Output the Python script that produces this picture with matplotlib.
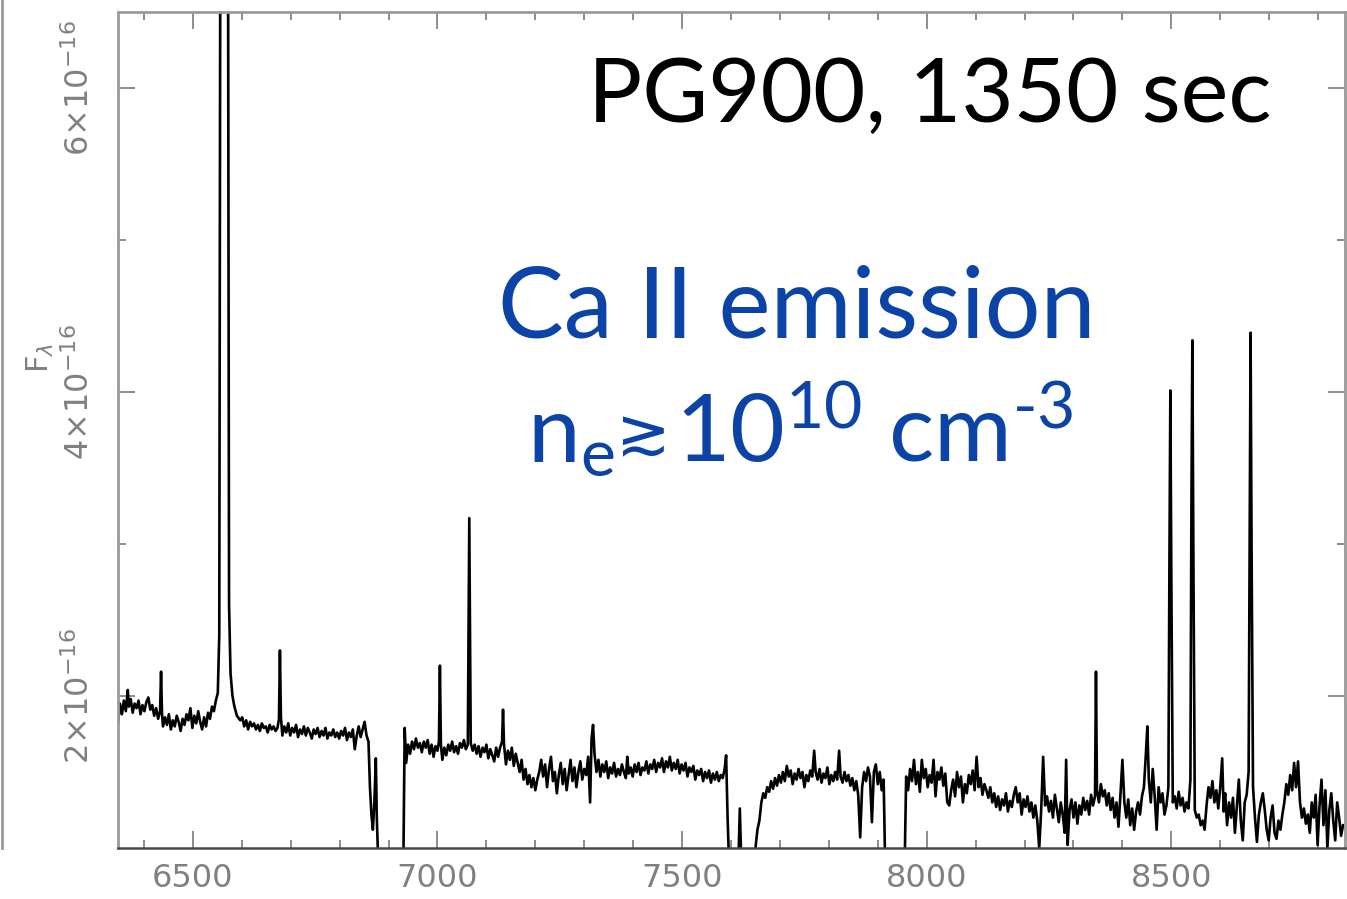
"""Optical spectrum (PG900, 1350 s) with Halpha, He I and the Ca II triplet in emission."""

import matplotlib
matplotlib.use("Agg")
import matplotlib.pyplot as plt
from matplotlib.lines import Line2D
from matplotlib.ticker import FixedLocator

# wavelength in Angstrom, flux in units of 1e-16
WAVE_A = [6347, 6351, 6355, 6359, 6363, 6367, 6369, 6373, 6377, 6381, 6385, 6389,
          6393, 6397, 6401, 6405, 6409, 6413, 6417, 6421, 6425, 6429, 6433, 6435,
          6437, 6439, 6443, 6447, 6451, 6455, 6459, 6463, 6467, 6471, 6475, 6479,
          6483, 6487, 6491, 6495, 6499, 6503, 6507, 6511, 6515, 6519, 6523, 6527,
          6531, 6535, 6539, 6543, 6547, 6551, 6554, 6556, 6558, 6570, 6572, 6574,
          6577, 6581, 6585, 6590, 6597, 6601, 6605, 6609, 6613, 6617, 6621, 6625,
          6629, 6633, 6637, 6641, 6645, 6649, 6653, 6657, 6661, 6665, 6669, 6673,
          6676, 6678, 6680, 6683, 6687, 6691, 6695, 6699, 6703, 6707, 6711, 6715,
          6719, 6723, 6727, 6731, 6735, 6739, 6743, 6747, 6751, 6755, 6759, 6763,
          6767, 6771, 6775, 6779, 6783, 6787, 6791, 6795, 6799, 6803, 6807, 6811,
          6815, 6819, 6823, 6827, 6831, 6835, 6839, 6843, 6847, 6851, 6855, 6859,
          6862, 6865, 6868, 6871, 6874, 6876, 6879, 6930]
FLUX_A = [1.82, 1.95, 1.88, 1.97, 1.90, 2.04, 1.93, 1.98, 1.89, 1.95, 1.92, 1.97,
          1.88, 1.94, 1.90, 1.96, 1.99, 1.91, 1.94, 1.87, 1.92, 1.85, 1.90, 2.16,
          1.88, 1.80, 1.86, 1.81, 1.88, 1.78, 1.84, 1.80, 1.87, 1.83, 1.77, 1.85,
          1.81, 1.88, 1.84, 1.92, 1.79, 1.87, 1.82, 1.90, 1.83, 1.78, 1.86, 1.80,
          1.89, 1.85, 1.93, 1.90, 1.97, 2.02, 2.40, 6.80, 7.50, 7.50, 6.80, 2.60,
          2.15, 2.00, 1.93, 1.87, 1.84, 1.86, 1.80, 1.84, 1.78, 1.83, 1.80, 1.82,
          1.78, 1.81, 1.77, 1.82, 1.79, 1.80, 1.76, 1.81, 1.78, 1.80, 1.77, 1.79,
          1.85, 2.30, 1.86, 1.74, 1.80, 1.76, 1.82, 1.74, 1.79, 1.76, 1.81, 1.73,
          1.78, 1.75, 1.80, 1.74, 1.79, 1.76, 1.72, 1.78, 1.75, 1.79, 1.73, 1.77,
          1.74, 1.79, 1.72, 1.76, 1.74, 1.78, 1.73, 1.76, 1.72, 1.77, 1.74, 1.79,
          1.71, 1.76, 1.73, 1.78, 1.65, 1.74, 1.80, 1.73, 1.78, 1.83, 1.74, 1.70,
          1.40, 1.22, 1.12, 1.30, 1.59, 1.20, 0.90, 0.80]

WAVE_B = [6933, 6936, 6940, 6944, 6948, 6952, 6956, 6960, 6964, 6968, 6972, 6976,
          6980, 6984, 6988, 6992, 6996, 7000, 7003, 7005, 7007, 7010, 7014, 7018,
          7022, 7026, 7030, 7034, 7038, 7042, 7046, 7050, 7054, 7058, 7062, 7065,
          7068, 7072, 7076, 7080, 7084, 7088, 7092, 7096, 7100, 7104, 7108, 7112,
          7116, 7120, 7124, 7128, 7132, 7134, 7136, 7140, 7144, 7148, 7152, 7156,
          7160, 7164, 7168, 7172, 7176, 7180, 7184, 7188, 7192, 7196, 7200, 7204,
          7208, 7212, 7216, 7220, 7224, 7228, 7232, 7236, 7240, 7244, 7248, 7252,
          7256, 7260, 7264, 7268, 7272, 7276, 7280, 7284, 7288, 7292, 7296, 7300,
          7304, 7308, 7312, 7315, 7318, 7321, 7325, 7329, 7333, 7337, 7341, 7345,
          7349, 7353, 7357, 7361, 7365, 7369, 7373, 7377, 7381, 7385, 7388, 7391,
          7395, 7399, 7403, 7407, 7411, 7415, 7419, 7423, 7427, 7431, 7435, 7439,
          7443, 7447, 7451, 7455, 7459, 7463, 7467, 7471, 7475, 7479, 7483, 7487,
          7491, 7495, 7499, 7503, 7507, 7511, 7515, 7519, 7523, 7527, 7531, 7535,
          7539, 7543, 7547, 7551, 7555, 7559, 7563, 7567, 7571, 7575, 7579, 7583,
          7587, 7590, 7593, 7596, 7615, 7618, 7621, 7648]
FLUX_B = [1.79, 1.56, 1.68, 1.62, 1.70, 1.65, 1.72, 1.66, 1.69, 1.63, 1.70, 1.66,
          1.71, 1.62, 1.68, 1.60, 1.67, 1.64, 1.70, 2.20, 1.68, 1.58, 1.66, 1.61,
          1.68, 1.64, 1.70, 1.63, 1.67, 1.62, 1.69, 1.66, 1.71, 1.65, 1.68, 3.17,
          1.69, 1.64, 1.68, 1.62, 1.67, 1.60, 1.66, 1.63, 1.68, 1.59, 1.65, 1.61,
          1.57, 1.66, 1.60, 1.66, 1.70, 1.91, 1.68, 1.55, 1.64, 1.58, 1.66, 1.54,
          1.62, 1.56, 1.50, 1.58, 1.45, 1.52, 1.42, 1.48, 1.40, 1.46, 1.38, 1.45,
          1.50, 1.58, 1.47, 1.55, 1.40, 1.52, 1.60, 1.44, 1.50, 1.36, 1.48, 1.56,
          1.42, 1.52, 1.38, 1.48, 1.58, 1.44, 1.53, 1.40, 1.50, 1.57, 1.45, 1.52,
          1.48, 1.60, 1.30, 1.72, 1.81, 1.62, 1.50, 1.58, 1.47, 1.55, 1.50, 1.57,
          1.46, 1.53, 1.49, 1.56, 1.47, 1.52, 1.48, 1.55, 1.50, 1.46, 1.60, 1.49,
          1.53, 1.47, 1.55, 1.50, 1.56, 1.48, 1.53, 1.51, 1.57, 1.49, 1.55, 1.52,
          1.58, 1.50, 1.56, 1.53, 1.59, 1.50, 1.57, 1.53, 1.60, 1.51, 1.56, 1.52,
          1.58, 1.49, 1.55, 1.51, 1.56, 1.47, 1.53, 1.50, 1.54, 1.45, 1.51, 1.48,
          1.52, 1.44, 1.50, 1.46, 1.51, 1.43, 1.49, 1.45, 1.50, 1.44, 1.48, 1.46,
          1.52, 1.61, 1.20, 0.90, 0.90, 1.26, 0.90, 0.90]

WAVE_C = [7650, 7654, 7658, 7662, 7666, 7670, 7674, 7678, 7682, 7686, 7690, 7694,
          7698, 7702, 7706, 7710, 7714, 7718, 7722, 7726, 7730, 7734, 7738, 7742,
          7746, 7750, 7754, 7758, 7762, 7766, 7770, 7773, 7777, 7781, 7785, 7789,
          7793, 7797, 7801, 7805, 7809, 7813, 7817, 7821, 7824, 7828, 7832, 7836,
          7840, 7844, 7848, 7852, 7856, 7860, 7864, 7868, 7872, 7876, 7880, 7884,
          7888, 7892, 7896, 7900, 7904, 7908, 7912, 7915, 7955]
FLUX_C = [1.00, 1.12, 1.18, 1.30, 1.36, 1.33, 1.40, 1.37, 1.44, 1.39, 1.46, 1.41,
          1.48, 1.43, 1.50, 1.44, 1.54, 1.47, 1.51, 1.42, 1.49, 1.45, 1.52, 1.46,
          1.50, 1.40, 1.48, 1.44, 1.51, 1.47, 1.64, 1.50, 1.45, 1.52, 1.43, 1.49,
          1.46, 1.53, 1.42, 1.48, 1.44, 1.50, 1.45, 1.64, 1.47, 1.43, 1.50, 1.44,
          1.48, 1.41, 1.46, 1.38, 1.44, 1.35, 1.07, 1.40, 1.50, 1.44, 1.53, 1.47,
          1.17, 1.50, 1.55, 1.42, 1.50, 1.38, 1.45, 0.90, 0.90]

WAVE_D = [7958, 7962, 7966, 7970, 7974, 7978, 7982, 7986, 7990, 7994, 7998, 8002,
          8006, 8010, 8014, 8018, 8022, 8026, 8030, 8034, 8038, 8042, 8046, 8050,
          8054, 8058, 8062, 8066, 8070, 8074, 8078, 8082, 8086, 8090, 8094, 8098,
          8102, 8106, 8110, 8114, 8118, 8122, 8126, 8130, 8134, 8138, 8142, 8146,
          8150, 8154, 8158, 8162, 8166, 8170, 8174, 8178, 8182, 8186, 8190, 8194,
          8198, 8202, 8206, 8210, 8214, 8218, 8222, 8226, 8230, 8234, 8238, 8242,
          8246, 8250, 8254, 8258, 8262, 8266, 8270, 8274, 8278, 8282, 8285, 8288,
          8292, 8296, 8300, 8304, 8308, 8312, 8316, 8320, 8324, 8328, 8332, 8336,
          8340, 8344, 8346, 8348, 8352, 8356, 8360, 8364, 8368, 8372, 8376, 8380,
          8384, 8388, 8392, 8396, 8400, 8404, 8408, 8412, 8416, 8420, 8424, 8428,
          8432, 8436, 8440, 8444, 8448, 8451, 8454, 8458, 8462, 8466, 8470, 8474,
          8478, 8482, 8486, 8490, 8494, 8496, 8498, 8500, 8503, 8507, 8511, 8515,
          8519, 8523, 8527, 8531, 8535, 8539, 8541, 8543, 8545, 8548, 8552, 8556,
          8560, 8564, 8568, 8572, 8576, 8580, 8584, 8588, 8592, 8596, 8600, 8604,
          8607, 8610, 8614, 8618, 8622, 8626, 8630, 8634, 8638, 8642, 8646, 8650,
          8654, 8658, 8660, 8662, 8664, 8667, 8671, 8675, 8679, 8683, 8687, 8691,
          8695, 8699, 8703, 8707, 8711, 8715, 8719, 8723, 8727, 8731, 8735, 8739,
          8743, 8747, 8751, 8755, 8759, 8763, 8767, 8771, 8775, 8779, 8783, 8787,
          8791, 8795, 8799, 8803, 8807, 8811, 8815, 8819, 8823, 8827, 8831, 8835,
          8839, 8843, 8847, 8851]
FLUX_D = [1.47, 1.38, 1.52, 1.44, 1.58, 1.42, 1.50, 1.37, 1.58, 1.46, 1.52, 1.40,
          1.48, 1.43, 1.58, 1.34, 1.50, 1.45, 1.53, 1.41, 1.49, 1.30, 1.28, 1.38,
          1.45, 1.34, 1.50, 1.40, 1.47, 1.30, 1.42, 1.36, 1.48, 1.42, 1.51, 1.38,
          1.60, 1.40, 1.46, 1.35, 1.42, 1.38, 1.33, 1.40, 1.30, 1.36, 1.27, 1.34,
          1.25, 1.32, 1.28, 1.36, 1.24, 1.31, 1.27, 1.35, 1.40, 1.30, 1.36, 1.22,
          1.32, 1.27, 1.34, 1.24, 1.30, 1.20, 1.28, 1.18, 1.00, 1.25, 1.60, 1.28,
          1.34, 1.24, 1.31, 1.20, 1.35, 1.26, 1.17, 1.30, 1.22, 1.10, 1.58, 1.02,
          1.25, 1.32, 1.20, 1.30, 1.16, 1.28, 1.22, 1.33, 1.25, 1.31, 1.22, 1.35,
          1.28, 1.34, 2.16, 1.38, 1.30, 1.42, 1.34, 1.38, 1.28, 1.36, 1.25, 1.33,
          1.20, 1.30, 1.14, 1.35, 1.58, 1.30, 1.20, 1.32, 1.15, 1.26, 1.12, 1.24,
          1.30, 1.22, 1.34, 1.40, 1.62, 1.80, 1.45, 1.30, 1.52, 1.34, 1.12, 1.40,
          1.30, 1.36, 1.22, 1.28, 1.40, 2.80, 4.01, 2.80, 1.30, 1.34, 1.26, 1.37,
          1.28, 1.33, 1.24, 1.30, 1.26, 1.45, 3.20, 4.34, 3.00, 1.25, 1.20, 1.22,
          1.15, 1.18, 1.12, 1.28, 1.40, 1.33, 1.44, 1.30, 1.38, 1.26, 1.40, 1.59,
          1.24, 1.36, 1.15, 1.30, 1.20, 1.33, 1.10, 1.28, 1.45, 1.18, 1.05, 1.30,
          1.35, 1.50, 3.00, 4.39, 3.00, 1.40, 1.20, 1.04, 1.22, 1.30, 1.36, 1.25,
          1.12, 1.05, 1.20, 1.28, 1.10, 1.06, 1.18, 1.12, 1.22, 1.30, 1.42, 1.35,
          1.48, 1.38, 1.56, 1.40, 1.57, 1.30, 1.20, 1.26, 1.16, 1.22, 1.10, 1.30,
          1.20, 1.35, 1.02, 1.28, 1.45, 1.15, 1.38, 1.00, 1.25, 1.36, 1.18, 1.05,
          1.30, 1.20, 1.08, 1.15]

X_MAJOR = [6500, 7000, 7500, 8000, 8500]
Y_MAJOR = [2, 4, 6]
Y_LABELS = [r"$2{\times}10^{-16}$", r"$4{\times}10^{-16}$", r"$6{\times}10^{-16}$"]

TITLE = "PG900, 1350 sec"
NOTE_1 = "Ca II emission"
NOTE_2_A = r"n$_\mathregular{e}$"
NOTE_2_B = "\u2273"
NOTE_2_C = r"10$^\mathregular{10}$ cm$^\mathregular{\text{-}3}$"

W, H = 1347, 899
GREY = "#8c8c8c"
BLUE = "#0b43a6"

plt.rcParams["mathtext.fontset"] = "custom"
plt.rcParams["mathtext.rm"] = "Lato"
plt.rcParams["mathtext.it"] = "Lato:italic"

fig = plt.figure(figsize=(W / 100, H / 100), dpi=100)
ax = fig.add_axes([118 / W, 1 - 848 / H, (1345 - 118) / W, (848 - 12) / H])

wave = WAVE_A + WAVE_B + WAVE_C + WAVE_D
flux = FLUX_A + FLUX_B + FLUX_C + FLUX_D
ax.plot(wave, flux, color="black", lw=1.9)

ax.set_xlim(6347, 8855)
ax.set_ylim(1.0, 6.5)

ax.xaxis.set_major_locator(FixedLocator(X_MAJOR))
ax.xaxis.set_minor_locator(FixedLocator(range(6400, 8900, 100)))
ax.yaxis.set_major_locator(FixedLocator(Y_MAJOR))
ax.yaxis.set_minor_locator(FixedLocator([3, 5]))
ax.set_yticklabels(Y_LABELS)

ax.tick_params(which="both", direction="in", top=True, right=True,
               color=GREY, width=1.4, labelcolor="#808080", labelsize=23)
ax.tick_params(which="major", length=12)
ax.tick_params(which="minor", length=6)
ax.tick_params(axis="x", pad=11)
ax.tick_params(axis="y", pad=16)
for lab in ax.get_yticklabels():
    lab.set_rotation(90)
    lab.set_va("center")
    lab.set_math_fontfamily("dejavusans")
for lab in ax.get_xticklabels():
    lab.set_family("DejaVu Sans")

for side in ["left", "top", "right"]:
    ax.spines[side].set_color("#9a9a9a")
    ax.spines[side].set_linewidth(2.0)
ax.spines["bottom"].set_color("#4a4a4a")
ax.spines["bottom"].set_linewidth(1.8)

fig.text(40 / W, 1 - 358 / H, r"F$_\lambda$", rotation=90, color="#808080",
         fontsize=22, ha="center", va="center", math_fontfamily="dejavusans",
         family="DejaVu Sans")

# edge of the neighbouring panel on the left
fig.add_artist(Line2D([2 / W, 2 / W], [1 - 848 / H, 1.0], color="#9a9a9a", lw=2.0))

fig.text(1272 / W, 1 - 122 / H, TITLE, fontsize=65, family="Lato",
         color="black", ha="right", va="baseline")
fig.text(797 / W, 1 - 338 / H, NOTE_1, fontsize=71, family="Lato",
         color=BLUE, ha="center", va="baseline")

base = 1 - 462 / H
fig.text(527 / W, base, NOTE_2_A, fontsize=68, family="Lato",
         color=BLUE, ha="left", va="baseline")
fig.text(615 / W, 1 - 454 / H, NOTE_2_B, fontsize=47, family=["DejaVu Sans"],
         color=BLUE, ha="left", va="baseline")
fig.text(675 / W, base, NOTE_2_C, fontsize=68, family="Lato",
         color=BLUE, ha="left", va="baseline")

fig.savefig("out.png", dpi=100)
